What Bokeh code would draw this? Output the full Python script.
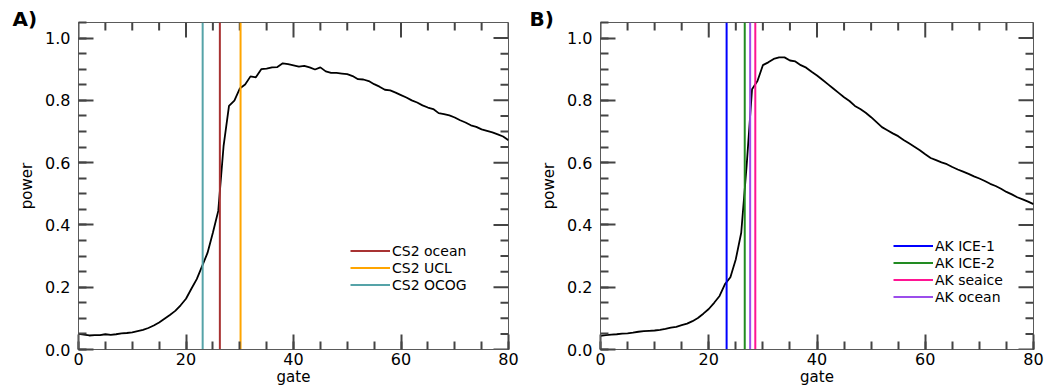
from bokeh.plotting import figure
from bokeh.models import (Range1d, Legend, LegendItem, SingleIntervalTicker,
                          PrintfTickFormatter, Title)
from bokeh.layouts import row
from bokeh.embed import file_html
from bokeh.resources import INLINE

# ---------------- data ----------------
gate = list(range(81))

power_a = [0.050, 0.048, 0.045, 0.046, 0.046, 0.049, 0.047, 0.049, 0.052, 0.053,
           0.055, 0.059, 0.063, 0.069, 0.077, 0.087, 0.099, 0.111, 0.124, 0.142,
           0.163, 0.195, 0.226, 0.268, 0.310, 0.375, 0.445, 0.655, 0.782, 0.799,
           0.838, 0.851, 0.877, 0.874, 0.900, 0.902, 0.906, 0.907, 0.919, 0.916,
           0.912, 0.908, 0.911, 0.906, 0.899, 0.906, 0.893, 0.888, 0.888, 0.886,
           0.884, 0.878, 0.868, 0.867, 0.862, 0.852, 0.844, 0.834, 0.832, 0.825,
           0.817, 0.809, 0.800, 0.793, 0.784, 0.777, 0.772, 0.759, 0.756, 0.752,
           0.745, 0.736, 0.729, 0.720, 0.715, 0.707, 0.702, 0.697, 0.691, 0.684,
           0.672]

power_b = [0.044, 0.046, 0.048, 0.049, 0.051, 0.052, 0.054, 0.057, 0.059, 0.060,
           0.061, 0.063, 0.066, 0.070, 0.073, 0.078, 0.083, 0.091, 0.101, 0.115,
           0.130, 0.150, 0.172, 0.210, 0.232, 0.290, 0.375, 0.590, 0.836, 0.862,
           0.913, 0.922, 0.933, 0.938, 0.938, 0.928, 0.925, 0.913, 0.905, 0.892,
           0.880, 0.866, 0.852, 0.838, 0.824, 0.810, 0.798, 0.782, 0.772, 0.760,
           0.746, 0.730, 0.714, 0.704, 0.694, 0.685, 0.673, 0.662, 0.651, 0.640,
           0.627, 0.615, 0.608, 0.601, 0.595, 0.586, 0.578, 0.571, 0.564, 0.556,
           0.549, 0.541, 0.532, 0.525, 0.516, 0.506, 0.498, 0.489, 0.482, 0.475,
           0.467]

retrack_a_labels = ["CS2 ocean", "CS2 UCL", "CS2 OCOG"]
retrack_a_gates = [26.3, 30.15, 23.1]
retrack_a_colors = ["#A83232", "#FFA500", "#55A3A8"]

retrack_b_labels = ["AK ICE-1", "AK ICE-2", "AK seaice", "AK ocean"]
retrack_b_gates = [23.3, 26.65, 28.6, 27.65]
retrack_b_colors = ["#0000FF", "#228B22", "#FF1493", "#9B4DEB"]

panel_titles = ["A)", "B)"]

x_major = [0, 20, 40, 60, 80]
x_minor_step = 5
y_major = [0.0, 0.2, 0.4, 0.6, 0.8, 1.0]
y_minor_step = 0.05

X_RANGE = (0, 80)
Y_RANGE = (0, 1.05)

FONT = "DejaVu Sans"
AXIS_COLOR = "#5a5a5a"
TICK_COLOR = "#444444"
TICK_WIDTH = 2
HEIGHT = 392
BORDER_TOP = 22
BORDER_BOTTOM = 43
MAJOR_LEN = 15   # px, inward
MINOR_LEN = 8    # px, inward


def minor_positions(lo, hi, step, majors):
    n = int(round((hi - lo) / step))
    vals = [round(lo + i * step, 6) for i in range(n + 1)]
    return [v for v in vals if all(abs(v - m) > 1e-6 for m in majors)]


x_minor = minor_positions(X_RANGE[0], X_RANGE[1], x_minor_step, x_major)
y_minor = minor_positions(Y_RANGE[0], 1.0, y_minor_step, y_major)


def style_axis(ax):
    ax.axis_line_color = AXIS_COLOR
    ax.major_tick_line_color = TICK_COLOR
    ax.minor_tick_line_color = TICK_COLOR
    ax.major_tick_line_width = TICK_WIDTH
    ax.minor_tick_line_width = TICK_WIDTH
    ax.major_tick_in = MAJOR_LEN
    ax.major_tick_out = 0
    ax.minor_tick_in = MINOR_LEN
    ax.minor_tick_out = 0
    ax.major_label_text_font = FONT
    ax.major_label_text_color = "#000000"
    ax.major_label_text_font_size = "16px"
    ax.axis_label_text_font = FONT
    ax.axis_label_text_font_style = "normal"
    ax.axis_label_text_color = "#000000"
    ax.axis_label_text_font_size = "15px"


def mirror_tick_paths(frame_w, frame_h):
    # inward ticks on the top and right edges of the box (mirrors of the axes)
    ux = (X_RANGE[1] - X_RANGE[0]) / frame_w   # data units per pixel
    uy = (Y_RANGE[1] - Y_RANGE[0]) / frame_h
    xs, ys = [], []
    for pos, ln in [(v, MAJOR_LEN) for v in x_major] + [(v, MINOR_LEN) for v in x_minor]:
        xs.append([pos, pos])
        ys.append([Y_RANGE[1], Y_RANGE[1] - ln * uy])
    for pos, ln in [(v, MAJOR_LEN) for v in y_major] + [(v, MINOR_LEN) for v in y_minor]:
        ys.append([pos, pos])
        xs.append([X_RANGE[1], X_RANGE[1] - ln * ux])
    return xs, ys


def make_panel(title, power, labels, gates, colors, width, left, right,
               legend_loc, title_offset):
    p = figure(width=width, height=HEIGHT, output_backend="svg",
               toolbar_location=None, x_range=Range1d(*X_RANGE),
               y_range=Range1d(*Y_RANGE), min_border_left=left,
               min_border_right=right, min_border_top=BORDER_TOP,
               min_border_bottom=BORDER_BOTTOM)
    p.grid.visible = False
    p.outline_line_color = AXIS_COLOR
    p.background_fill_color = "white"
    p.border_fill_color = "white"

    p.xaxis.ticker = SingleIntervalTicker(interval=20, num_minor_ticks=4)
    p.yaxis.ticker = SingleIntervalTicker(interval=0.2, num_minor_ticks=4)
    p.yaxis.formatter = PrintfTickFormatter(format="%.1f")
    p.xaxis.axis_label = "gate"
    p.yaxis.axis_label = "power"
    style_axis(p.xaxis[0])
    style_axis(p.yaxis[0])
    p.xaxis.major_label_standoff = 3
    p.xaxis.axis_label_standoff = 0
    p.yaxis.major_label_standoff = 8
    p.yaxis.axis_label_standoff = 6

    txs, tys = mirror_tick_paths(width - left - right,
                                 HEIGHT - BORDER_TOP - BORDER_BOTTOM)
    p.multi_line(xs=txs, ys=tys, line_color=TICK_COLOR, line_width=TICK_WIDTH)

    p.line(gate, power, line_color="black", line_width=1.8)

    items = []
    for lab, g, c in zip(labels, gates, colors):
        r = p.segment(x0=[g], y0=[Y_RANGE[0]], x1=[g], y1=[Y_RANGE[1]],
                      line_color=c, line_width=2)
        items.append(LegendItem(label=lab, renderers=[r]))

    leg = Legend(items=items, location=legend_loc, padding=0, margin=0,
                 spacing=0, glyph_width=40, glyph_height=17, label_height=17,
                 label_standoff=2, border_line_color=None,
                 background_fill_alpha=0, label_text_font=FONT,
                 label_text_font_size="14px", label_text_color="#000000")
    p.add_layout(leg)

    p.title = Title(text=title, align="left", offset=title_offset,
                    standoff=-16, text_font=FONT, text_font_size="20px",
                    text_font_style="bold", text_color="#000000",
                    vertical_align="bottom")
    return p


pa = make_panel(panel_titles[0], power_a, retrack_a_labels, retrack_a_gates,
                retrack_a_colors, 520, 78, 12, (272, 56), -66)
pb = make_panel(panel_titles[1], power_b, retrack_b_labels, retrack_b_gates,
                retrack_b_colors, 531, 80, 18, (293, 44), -71)

layout = row(pa, pb, spacing=0)
open("out.html", "w").write(file_html(layout, INLINE))
